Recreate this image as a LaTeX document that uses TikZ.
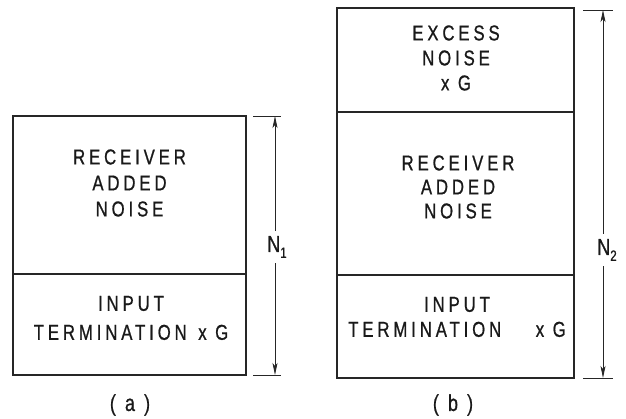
\documentclass[tikz,border=0pt]{standalone}
\usepackage{fontspec}
\newfontfamily\lab[LetterSpace=18,FakeStretch=0.78,FakeBold=0.8]{Liberation Sans}
\usetikzlibrary{arrows.meta}
\begin{document}
\begin{tikzpicture}[x=1pt,y=-1pt,
  panel/.style={draw=black!85,line width=1.5pt,inner sep=0pt,minimum width=#1},
  txt/.style={font=\lab\fontsize{21.5}{26}\selectfont,align=center,inner sep=0pt,text=black!90},
  dim/.style={draw=black!85,line width=0.9pt,-{Stealth[length=12pt,width=5pt,inset=3pt]}},
  tick/.style={draw=black!85,line width=0.9pt},
  nlab/.style={font=\lab\fontsize{23}{23}\selectfont,inner sep=0pt,minimum height=32pt,text=black!90}]
\useasboundingbox (0,0) rectangle (626,419);
% ---- (a)
\node[panel=233pt,minimum height=158pt] (recA) at (129.5,195) {};
\node[panel=233pt,minimum height=101pt] (inpA) at (129.5,324.5) {};
\node[txt] (tRecA) at (129.5,183) {RECEIVER\\ADDED\\NOISE};
\node[txt,font=\lab\fontsize{21.5}{29}\selectfont] (tInpA) at (131,318) {INPUT\\TERMINATION\hspace{3pt} x G};
\coordinate (aT1) at (253,116); \coordinate (aT2) at (281,116);
\coordinate (aB1) at (253,375); \coordinate (aB2) at (281,375);
\coordinate (aTop) at (275,116); \coordinate (aBot) at (275,375);
\draw[tick] (aT1) -- (aT2);
\draw[tick] (aB1) -- (aB2);
\node[nlab] (n1) at (277,247) {N\raisebox{-6pt}{\fontsize{15}{15}\selectfont 1}};
\draw[dim] (n1.north -| aTop) -- (aTop);
\draw[dim] (n1.south -| aBot) -- (aBot);
\node[txt,font=\lab\fontsize{23}{23}\selectfont] (capA) at (130,405) {( a )};
% ---- (b)
\node[panel=237pt,minimum height=104pt] (excB) at (455.5,60) {};
\node[panel=237pt,minimum height=163pt] (recB) at (455.5,193.5) {};
\node[panel=237pt,minimum height=103pt] (inpB) at (455.5,326.5) {};
\node[txt,font=\lab\fontsize{21.5}{25}\selectfont] (tExcB) at (456,58) {EXCESS\\NOISE\\x G};
\node[txt,font=\lab\fontsize{21.5}{24}\selectfont] (tRecB) at (458,187) {RECEIVER\\ADDED\\NOISE};
\node[txt,font=\lab\fontsize{21.5}{25}\selectfont] (tInpB) at (457,317) {INPUT\\TERMINATION\hspace{26pt} x G};
\coordinate (bT1) at (583,10); \coordinate (bT2) at (613,10);
\coordinate (bB1) at (583,378); \coordinate (bB2) at (613,378);
\coordinate (bTop) at (603,10); \coordinate (bBot) at (603,378);
\draw[tick] (bT1) -- (bT2);
\draw[tick] (bB1) -- (bB2);
\node[nlab] (n2) at (607,250) {N\raisebox{-6pt}{\fontsize{15}{15}\selectfont 2}};
\draw[dim] (n2.north -| bTop) -- (bTop);
\draw[dim] (n2.south -| bBot) -- (bBot);
\node[txt,font=\lab\fontsize{23}{23}\selectfont] (capB) at (453,405) {( b )};
\end{tikzpicture}
\end{document}
